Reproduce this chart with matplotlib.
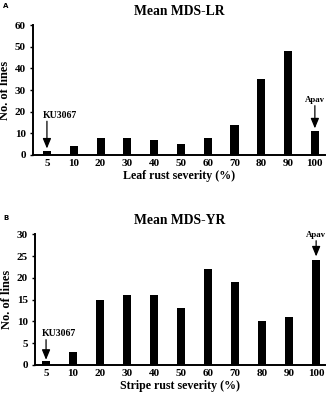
import matplotlib
matplotlib.use('Agg')
from matplotlib import pyplot as plt

# severity classes (%)
severity = ['5', '10', '20', '30', '40', '50', '60', '70', '80', '90', '100']
# number of lines, leaf rust
lr_counts = [2, 4, 8, 8, 7, 5, 8, 14, 35, 48, 11]
# number of lines, stripe rust
yr_counts = [1, 3, 15, 16, 16, 13, 22, 19, 10, 11, 24]

plt.rcParams['font.family'] = ['Liberation Serif', 'DejaVu Serif']
plt.rcParams['font.weight'] = 'bold'

fig = plt.figure(figsize=(3.3, 4.0), dpi=100)

arrow = dict(arrowstyle='-|>,head_length=0.6,head_width=0.25', color='black', lw=0.9,
             shrinkA=0, shrinkB=0)


def panel(rect, counts, ymax, ystep, title, xlabel, ku_y, apav_y, xlim):
    ax = fig.add_axes(rect)
    x = range(len(severity))
    ax.bar(x, counts, width=0.3, color='black')
    ax.set_xlim(*xlim)
    ax.set_ylim(0, ymax)
    ax.set_yticks(range(0, ymax + 1, ystep))
    ax.set_xticks(list(x))
    ax.set_xticklabels(severity)
    for s in ['top', 'right']:
        ax.spines[s].set_visible(False)
    for s in ['left', 'bottom']:
        ax.spines[s].set_linewidth(1.4)
    ax.tick_params(axis='x', length=0, labelsize=8, pad=3)
    ax.tick_params(axis='y', length=2, width=1, labelsize=8, pad=3)
    ax.set_xlabel(xlabel, fontsize=8.6, fontweight='bold', labelpad=1)
    ax.set_ylabel('No. of lines', fontsize=9, fontweight='bold', labelpad=3)
    ax.set_title(title, fontsize=9.8, fontweight='bold', pad=7)
    # arrows for the parents
    ax.text(-0.17, ku_y[0] + 0.3 * ystep / 10 * 2, 'KU3067', ha='left', va='bottom', fontsize=7)
    ax.annotate('', xy=(0, ku_y[1]), xytext=(0, ku_y[0]), arrowprops=arrow)
    ax.text(10, apav_y[0] + 0.3 * ystep / 10 * 2, 'Apav', ha='center', va='bottom', fontsize=6.3)
    ax.annotate('', xy=(10, apav_y[1]), xytext=(10, apav_y[0]), arrowprops=arrow)
    return ax


panel([0.1, 0.6125, 0.885, 0.3245], lr_counts, 60, 10, 'Mean MDS-LR',
      'Leaf rust severity (%)', (15.6, 3.0), (22.8, 12.3), (-0.52, 10.38))
panel([0.106, 0.0875, 0.879, 0.327], yr_counts, 30, 5, 'Mean MDS-YR',
      'Stripe rust severity (%)', (5.8, 1.2), (28.5, 24.9), (-0.41, 10.33))

fig.text(0.01, 0.985, 'A', fontsize=5, fontweight='bold', family='DejaVu Sans', va='center')
fig.text(0.01, 0.455, 'B', fontsize=5, fontweight='bold', family='DejaVu Sans', va='center')

fig.savefig('out.png', dpi=100)
